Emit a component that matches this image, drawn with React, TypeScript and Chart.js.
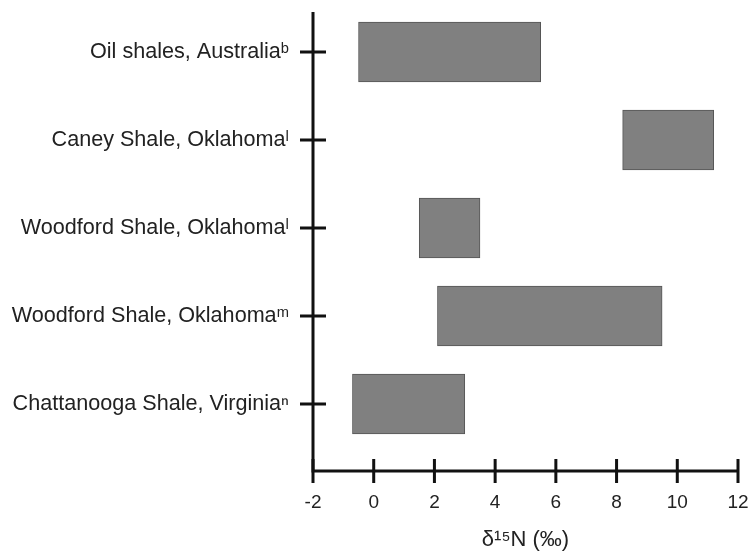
import React, { useEffect, useRef } from "react";
import { Chart, registerables } from "chart.js";

Chart.register(...registerables);

const categories = [
  "Oil shales, Australiaᵇ",
  "Caney Shale, Oklahomaˡ",
  "Woodford Shale, Oklahomaˡ",
  "Woodford Shale, Oklahomaᵐ",
  "Chattanooga Shale, Virginiaⁿ",
];
const lowValues = [-0.5, 8.2, 1.5, 2.1, -0.7];
const highValues = [5.5, 11.2, 3.5, 9.5, 3.0];
const xTickValues = [-2, 0, 2, 4, 6, 8, 10, 12];
const xTitle = "δ¹⁵N (‰)";

const axesPlugin = {
  id: "crossAxes",
  afterDraw(chart: any) {
    const { ctx, chartArea, scales } = chart;
    const x = scales.x;
    const y = scales.y;
    ctx.save();
    ctx.strokeStyle = "#111";
    ctx.lineWidth = 3;
    ctx.lineCap = "butt";
    ctx.beginPath();
    ctx.moveTo(chartArea.left, chartArea.top);
    ctx.lineTo(chartArea.left, chartArea.bottom);
    ctx.lineTo(chartArea.right, chartArea.bottom);
    ctx.stroke();
    ctx.beginPath();
    for (const v of xTickValues) {
      const px = x.getPixelForValue(v);
      ctx.moveTo(px, chartArea.bottom - 12);
      ctx.lineTo(px, chartArea.bottom + 12);
    }
    categories.forEach((_, i) => {
      const py = y.getPixelForValue(i);
      ctx.moveTo(chartArea.left - 13, py);
      ctx.lineTo(chartArea.left + 13, py);
    });
    ctx.stroke();
    ctx.restore();
  },
};

const zeroPad = (scale: any) => {
  scale.paddingTop = 0;
  scale.paddingBottom = 0;
  scale.paddingLeft = 0;
  scale.paddingRight = 0;
};

export default function App() {
  const canvasRef = useRef<HTMLCanvasElement | null>(null);

  useEffect(() => {
    const canvas = canvasRef.current;
    if (!canvas) return;
    const chart = new Chart(canvas, {
      type: "bar",
      data: {
        datasets: [
          {
            data: categories.map((_, i) => ({ y: i, x: [lowValues[i], highValues[i]] })) as any,
            backgroundColor: "#808080",
            borderColor: "#555555",
            borderWidth: 1,
            borderSkipped: false,
            barThickness: 60,
          },
        ],
      },
      options: {
        indexAxis: "y",
        responsive: false,
        animation: false,
        layout: { padding: { top: 12, right: 15, left: 0, bottom: 0 } },
        plugins: {
          legend: { display: false },
          tooltip: { enabled: false },
        },
        scales: {
          x: {
            type: "linear",
            min: -2,
            max: 12,
            offset: false,
            grid: { display: false, drawTicks: false, tickLength: 0 },
            border: { display: false },
            afterBuildTicks: (scale: any) => {
              scale.ticks = xTickValues.map((v) => ({ value: v }));
            },
            afterFit: (scale: any) => {
              scale.height = 83;
              zeroPad(scale);
            },
            ticks: {
              padding: 20,
              color: "#222",
              font: { family: "'Liberation Sans', Arial, sans-serif", size: 19 },
              maxRotation: 0,
            },
            title: {
              display: true,
              text: xTitle,
              color: "#222",
              padding: { top: 0, bottom: 1 },
              font: { family: "'Liberation Sans', Arial, sans-serif", size: 22 },
            },
          },
          y: {
            type: "linear",
            reverse: true,
            min: -0.4545,
            max: 4.761,
            offset: false,
            grid: { display: false, drawTicks: false, tickLength: 0, offset: false },
            border: { display: false },
            afterBuildTicks: (scale: any) => {
              scale.ticks = categories.map((_, i) => ({ value: i }));
            },
            afterFit: (scale: any) => {
              scale.width = 313;
              zeroPad(scale);
            },
            ticks: {
              padding: 24,
              color: "#222",
              font: { family: "'Liberation Sans', Arial, sans-serif", size: 21.6 },
              callback: (v: any) => categories[Number(v)] ?? "",
            },
          },
        },
      },
      plugins: [axesPlugin],
    });
    return () => chart.destroy();
  }, []);

  return (
    <div style={{ position: "fixed", left: 0, top: 0, width: 753, height: 554, background: "#fff" }}>
      <canvas ref={canvasRef} width={753} height={554} style={{ width: 753, height: 554 }} />
    </div>
  );
}
